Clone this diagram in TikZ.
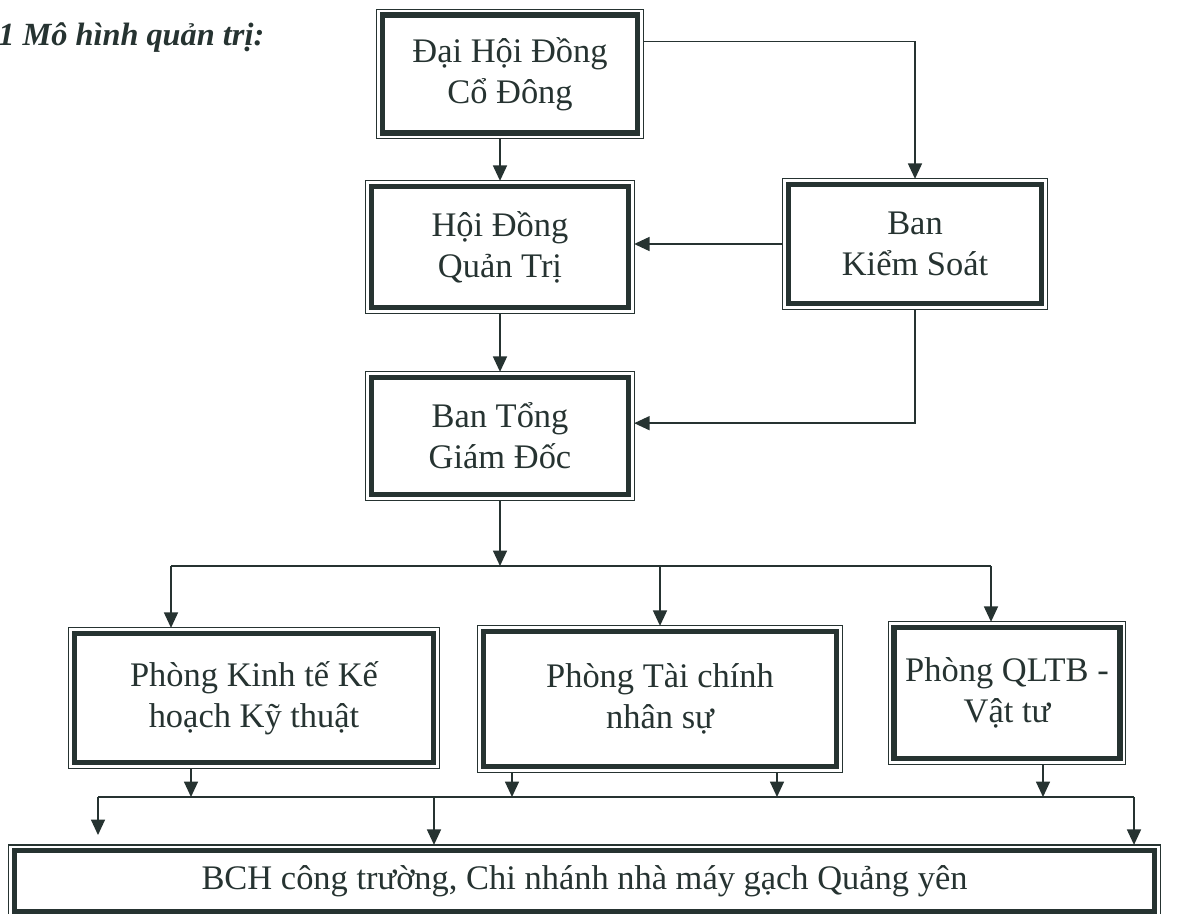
\documentclass[tikz,border=0pt]{standalone}
\usepackage{fontspec}
\setmainfont{Liberation Serif}
\usetikzlibrary{arrows.meta,calc}
\definecolor{ink}{HTML}{263331}
\tikzset{
  unit/.style={draw=ink, line width=4pt, outer sep=4pt, inner sep=0pt, align=center,
    text=ink, font=\fontsize{24.5}{29}\selectfont},
  frame/.style={draw=ink, line width=0.9pt},
  wire/.style={draw=ink, line width=1pt},
  arr/.style={wire, -{Triangle[length=11pt,width=10pt]}},
}
\begin{document}
\begin{tikzpicture}[x=0.025cm, y=-0.025cm]
    \useasboundingbox (0,0) rectangle (1185,914);
    \node [anchor=base west, inner sep=0pt, text=ink,
      font=\fontsize{23}{27}\selectfont\bfseries\itshape] (title) at (-2,46) {1 Mô hình quản trị:};

    % boxes
    \node [unit, minimum width=6.375cm, minimum height=2.95cm] (dhdcd) at (510,74) {Đại Hội Đồng\\Cổ Đông};
    \node [unit, minimum width=6.425cm, minimum height=3.025cm] (hdqt) at (500,247) {Hội Đồng\\Quản Trị};
    \node [unit, minimum width=6.325cm, minimum height=2.975cm] (bks) at (915,244) {Ban\\Kiểm Soát};
    \node [unit, minimum width=6.425cm, minimum height=2.925cm] (btgd) at (500,436) {Ban Tổng\\Giám Đốc};
    \node [unit, minimum width=8.975cm, minimum height=3.225cm] (pkt) at (254,698) {Phòng Kinh tế Kế\\hoạch Kỹ thuật};
    \node [unit, minimum width=8.825cm, minimum height=3.375cm] (ptc) at (660,699) {Phòng Tài chính\\nhân sự};
    \node [unit, minimum width=5.65cm, minimum height=3.275cm] (pql) at (1007,693) {Phòng QLTB -\\Vật tư};
    \node [unit, minimum width=28.5cm, minimum height=1.525cm] (bch) at (584.5,881) {BCH công trường, Chi nhánh nhà máy gạch Quảng yên};
    \foreach \n in {dhdcd,hdqt,bks,btgd,pkt,ptc,pql,bch}
      \draw [frame] (\n.north west) rectangle (\n.south east);

    % top part
    \draw [arr] (hdqt.north |- dhdcd.south) -- (hdqt.north);
    \draw [arr] ($(dhdcd.north east)!0.25!(dhdcd.south east)$) -| (bks.north);
    \draw [arr] (bks.west) -- (bks.west -| hdqt.east);
    \draw [arr] (bks.south) |- ($(btgd.north east)!0.4!(btgd.south east)$);
    \draw [arr] (hdqt.south) -- (btgd.north);

    % to the departments
    \coordinate (busA) at (171,566);
    \coordinate (busB) at (991,566);
    \draw [arr] (btgd.south) -- (btgd.south |- busA);
    \draw [wire] (busA) -- (busB);
    \draw [arr] (busA) -- (busA |- pkt.north);
    \draw [arr] (ptc.north |- busA) -- (ptc.north);
    \draw [arr] (busB) -- (busB |- pql.north);

    % to the sites
    \coordinate (busC) at (98,797);
    \coordinate (busD) at (1134,797);
    \coordinate (k1) at (191,797);
    \coordinate (k2) at (512,797);
    \coordinate (k3) at (777,797);
    \coordinate (k4) at (1043,797);
    \coordinate (m1) at (434,797);
    \coordinate (endC) at (98,835);
    \draw [arr] (k1 |- pkt.south) -- (k1);
    \draw [arr] (k2 |- ptc.south) -- (k2);
    \draw [arr] (k3 |- ptc.south) -- (k3);
    \draw [arr] (k4 |- pql.south) -- (k4);
    \draw [wire] (busC) -- (busD);
    \draw [arr] (busC) -- (endC);
    \draw [arr] (m1) -- (m1 |- bch.north);
    \draw [arr] (busD) -- (busD |- bch.north);
\end{tikzpicture}
\end{document}
